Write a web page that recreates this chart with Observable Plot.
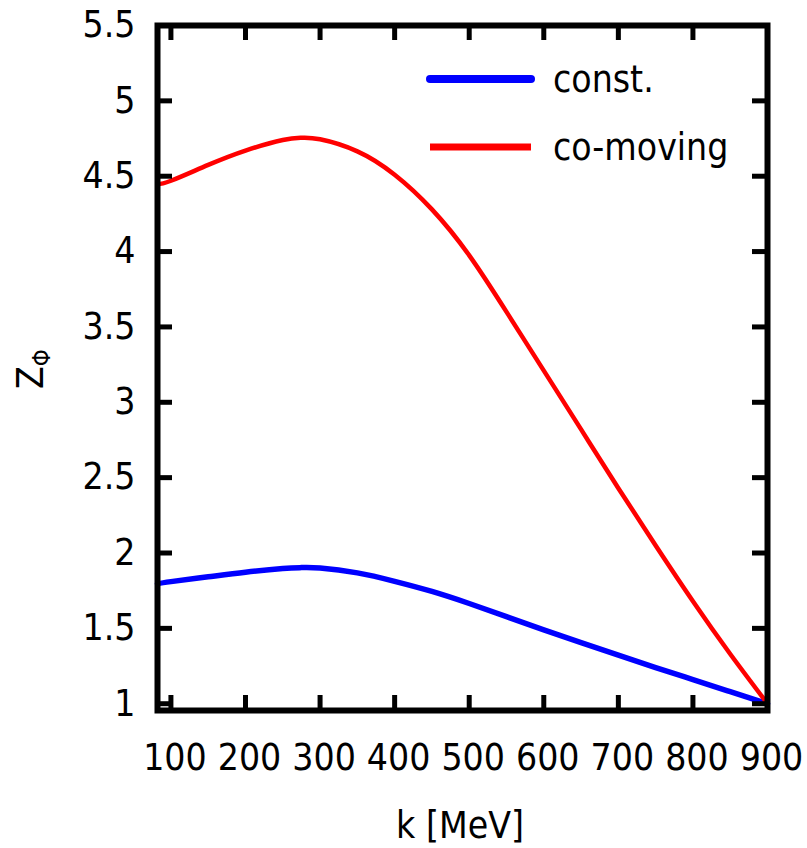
<!DOCTYPE html>
<html>
<head>
<meta charset="utf-8">
<script src="https://cdn.jsdelivr.net/npm/d3@7"></script>
<script src="https://cdn.jsdelivr.net/npm/@observablehq/plot@0.6"></script>
<style>
  html, body { margin: 0; padding: 0; background: #fff; }
  #chart svg { display: block; }
</style>
</head>
<body>
<div id="chart"></div>
<script>
// ---- data ----
const kValues       = [82, 100, 150, 200, 250, 275, 300, 350, 400, 450, 500, 550, 600, 650, 700, 750, 800, 850, 900];
const constValues   = [1.796, 1.81, 1.842, 1.873, 1.897, 1.903, 1.90, 1.868, 1.812, 1.745, 1.665, 1.578, 1.49, 1.405, 1.322, 1.24, 1.16, 1.08, 1.0];
const comovingValues= [4.447, 4.47, 4.575, 4.67, 4.74, 4.755, 4.745, 4.665, 4.51, 4.28, 3.975, 3.60, 3.21, 2.82, 2.43, 2.05, 1.68, 1.33, 1.0];
const seriesNames   = ["const.", "co-moving"];
const seriesColors  = ["#0000ff", "#ff0000"];
const xTicks = [100, 200, 300, 400, 500, 600, 700, 800, 900];
const yTicks = [1, 1.5, 2, 2.5, 3, 3.5, 4, 4.5, 5, 5.5];
const yTickLabels = ["1", "1.5", "2", "2.5", "3", "3.5", "4", "4.5", "5", "5.5"];
const xLabel = "k [MeV]";

const rows = [];
kValues.forEach((k, i) => {
  rows.push({k, v: constValues[i], s: seriesNames[0]});
  rows.push({k, v: comovingValues[i], s: seriesNames[1]});
});

const W = 807, H = 848;
const mL = 157, mR = 40, mT = 25, mB = 138;
const plotH = H - mT - mB, plotW = W - mL - mR;
const tickLen = 15;
const FONT = '"DejaVu Sans Condensed", "DejaVu Sans", sans-serif';
const FS = 37;

const chart = Plot.plot({
  width: W, height: H,
  marginLeft: mL, marginRight: mR, marginTop: mT, marginBottom: mB,
  style: {fontFamily: FONT, fontSize: FS + "px", color: "#000", background: "#fff", overflow: "visible"},
  x: {domain: [82, 900]},
  y: {domain: [0.955, 5.5]},
  color: {domain: seriesNames, range: seriesColors},
  marks: [
    // curves
    Plot.line(rows.filter(d => d.s === seriesNames[0]), {x: "k", y: "v", stroke: "s", strokeWidth: 5.5, curve: "natural"}),
    Plot.line(rows.filter(d => d.s === seriesNames[1]), {x: "k", y: "v", stroke: "s", strokeWidth: 4.5, curve: "natural"}),
    // inward ticks, all four sides
    Plot.tickX(xTicks, {x: d => d, stroke: "#000", strokeWidth: 5, insetTop: plotH - tickLen}),
    Plot.tickX(xTicks, {x: d => d, stroke: "#000", strokeWidth: 5, insetBottom: plotH - tickLen}),
    Plot.tickY(yTicks, {y: d => d, stroke: "#000", strokeWidth: 5, insetRight: plotW - tickLen}),
    Plot.tickY(yTicks, {y: d => d, stroke: "#000", strokeWidth: 5, insetLeft: plotW - tickLen}),
    // labels
    Plot.axisX(xTicks, {tickSize: 0, tickPadding: 33, label: null, fontSize: FS, dx: 4}),
    Plot.axisY(yTicks, {tickSize: 0, tickPadding: 22, label: null, fontSize: FS, tickFormat: d => yTickLabels[yTicks.indexOf(d)]}),
    Plot.frame({stroke: "#000", strokeWidth: 6})
  ]
});

const svg = d3.select(chart);
// x axis title
svg.append("text")
  .attr("x", mL + plotW / 2 - 2).attr("y", 838)
  .attr("text-anchor", "middle")
  .attr("font-family", FONT).attr("font-size", FS)
  .attr("fill", "#000")
  .text(xLabel);
// y axis title Z_Φ
const yt = svg.append("text")
  .attr("transform", "translate(43,389) rotate(-90)")
  .attr("text-anchor", "start")
  .attr("font-family", FONT).attr("font-size", 37).attr("fill", "#000");
yt.append("tspan").text("Z");
yt.append("tspan").attr("font-size", 24).attr("dy", 7).text("Φ");

// legend
const leg = svg.append("g");
seriesNames.forEach((name, i) => {
  const y = [79, 147][i];
  leg.append("line")
    .attr("x1", 430).attr("x2", 531).attr("y1", y).attr("y2", y)
    .attr("stroke", seriesColors[i]).attr("stroke-width", [8, 7][i])
    .attr("stroke-linecap", i === 0 ? "round" : "butt");
  leg.append("text")
    .attr("x", 553).attr("y", y + 13)
    .attr("text-anchor", "start")
    .attr("font-family", FONT).attr("font-size", FS).attr("fill", "#000")
    .text(name);
});

document.getElementById("chart").appendChild(chart);
</script>
</body>
</html>
